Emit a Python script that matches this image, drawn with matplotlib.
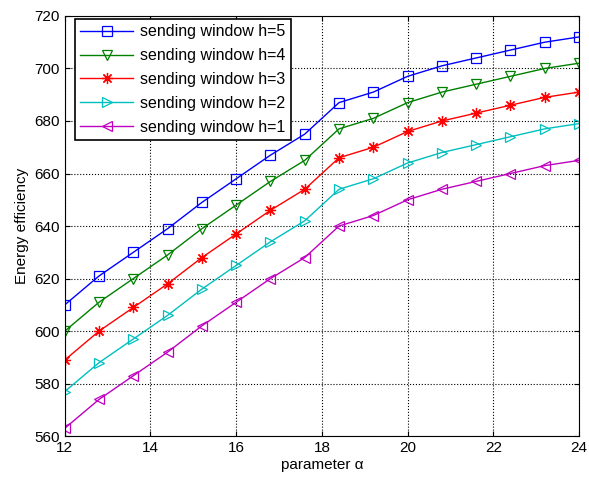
import matplotlib
matplotlib.use('Agg')
import matplotlib.pyplot as plt
import numpy as np

alpha = [12, 12.8, 13.6, 14.4, 15.2, 16, 16.8, 17.6, 18.4, 19.2, 20, 20.8, 21.6, 22.4, 23.2, 24]
h5 = [610, 621, 630, 639, 649, 658, 667, 675, 687, 691, 697, 701, 704, 707, 710, 712]
h4 = [600, 611, 620, 629, 639, 648, 657, 665, 677, 681, 687, 691, 694, 697, 700, 702]
h3 = [589, 600, 609, 618, 628, 637, 646, 654, 666, 670, 676, 680, 683, 686, 689, 691]
h2 = [577, 588, 597, 606, 616, 625, 634, 642, 654, 658, 664, 668, 671, 674, 677, 679]
h1 = [563, 574, 583, 592, 602, 611, 620, 628, 640, 644, 650, 654, 657, 660, 663, 665]
labels = ['sending window h=5', 'sending window h=4', 'sending window h=3',
          'sending window h=2', 'sending window h=1']

plt.rcParams['font.family'] = ['Liberation Sans', 'DejaVu Sans']
fig = plt.figure(figsize=(5.89, 4.83), dpi=100)
ax = fig.add_axes([0.110, 0.097, 0.873, 0.870])

series = [h5, h4, h3, h2, h1]
colors = ['#0000ff', '#008000', '#ff0000', '#00bfbf', '#bf00bf']
markers = ['s', 'v', (8, 2, 0), '>', '<']
sizes = [6.5, 7, 8, 7, 7]
for ys, c, m, ms, lab in zip(series, colors, markers, sizes, labels):
    ax.plot(alpha, ys, color=c, marker=m, markersize=ms,
            markerfacecolor='none', markeredgecolor=c,
            markeredgewidth=0.9, linewidth=1.0, label=lab)

ax.set_xlim(12, 24)
ax.set_ylim(560, 720)
ax.set_xticks(np.arange(12, 25, 2))
ax.set_yticks(np.arange(560, 721, 20))
ax.grid(True, color='black', linestyle=':', linewidth=0.8)
ax.tick_params(direction='in', top=True, right=True, labelsize=11)
for s in ax.spines.values():
    s.set_linewidth(0.8)
ax.set_xlabel('parameter \u03b1', fontsize=11, labelpad=2)
ax.set_ylabel('Energy efficiency', fontsize=11, labelpad=4)

leg = ax.legend(loc='upper left', bbox_to_anchor=(0.019, 0.993), borderaxespad=0,
                fontsize=11.5, fancybox=False, framealpha=1,
                edgecolor='black', handlelength=3.3,
                labelspacing=0.55, handletextpad=0.45, borderpad=0.35)
leg.get_frame().set_linewidth(1.2)

fig.savefig('out.png', dpi=100)
